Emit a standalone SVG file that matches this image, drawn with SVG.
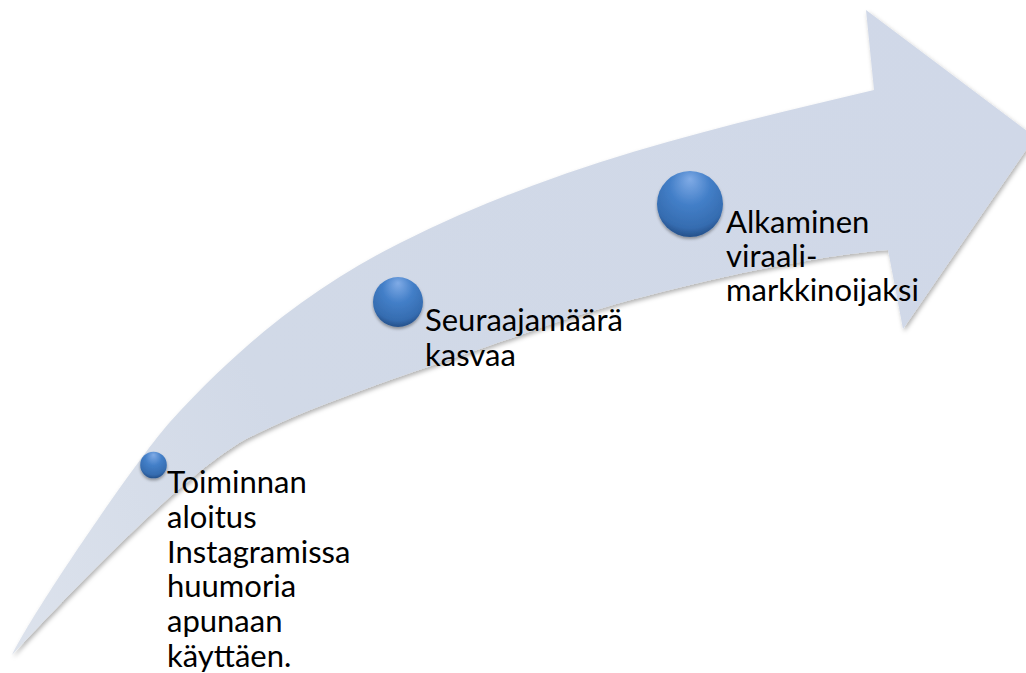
<svg xmlns="http://www.w3.org/2000/svg" width="1026" height="673" viewBox="0 0 1026 673">
  <style>
    .lbl { font-family: Lato, "Noto Sans", "Liberation Sans", sans-serif; font-size: 31px; fill: #000000; }
    .ball { fill: url(#ballGrad); filter: url(#ballShadow); }
  </style>
  <defs>
    <linearGradient id="arrowGrad" x1="12" y1="655" x2="1035" y2="137" gradientUnits="userSpaceOnUse">
      <stop offset="0" stop-color="#DCE2EC"/>
      <stop offset="0.3" stop-color="#D1D9E7"/>
      <stop offset="1" stop-color="#D0D8E8"/>
    </linearGradient>
    <radialGradient id="ballGrad" cx="0.5" cy="0.32" r="0.68" fx="0.5" fy="0.12">
      <stop offset="0" stop-color="#80ABE6"/>
      <stop offset="0.45" stop-color="#437FC8"/>
      <stop offset="0.85" stop-color="#356CB0"/>
      <stop offset="1" stop-color="#25508A"/>
    </radialGradient>
    <filter id="arrowShadow" x="-5%" y="-5%" width="110%" height="115%">
      <feDropShadow dx="1.5" dy="2.5" stdDeviation="2" flood-color="#000000" flood-opacity="0.3"/>
    </filter>
    <filter id="ballShadow" x="-30%" y="-30%" width="160%" height="170%">
      <feDropShadow dx="0" dy="2" stdDeviation="1.8" flood-color="#000000" flood-opacity="0.35"/>
    </filter>
  </defs>

  <g id="arrow">
    <path fill="url(#arrowGrad)" filter="url(#arrowShadow)"
      d="M 12,655
         C 35,608 140,455 170,422
         C 245,339 320,283 400,243
         C 560,163 714,128 874,90
         L 866,10
         L 1035,137
         L 903,329
         L 888,250
         C 790,258 630,296 540,328
         C 440,364 330,397 250,437
         C 190,467 72,591 12,655 Z"/>
  </g>

  <g id="node1">
    <circle class="ball" cx="153.5" cy="465" r="13.3"/>
    <text class="lbl" x="167" y="493">Toiminnan<tspan x="167" y="528">aloitus</tspan><tspan x="167" y="563">Instagramissa</tspan><tspan x="167" y="597">huumoria</tspan><tspan x="167" y="632">apunaan</tspan><tspan x="167" y="667">käyttäen.</tspan></text>
  </g>

  <g id="node2">
    <circle class="ball" cx="398" cy="302" r="25"/>
    <text class="lbl" x="425" y="331">Seuraajamäärä<tspan x="425" y="366">kasvaa</tspan></text>
  </g>

  <g id="node3">
    <circle class="ball" cx="690" cy="204" r="33"/>
    <text class="lbl" x="726" y="233">Alkaminen<tspan x="726" y="267">viraali-</tspan><tspan x="726" y="301">markkinoijaksi</tspan></text>
  </g>
</svg>
